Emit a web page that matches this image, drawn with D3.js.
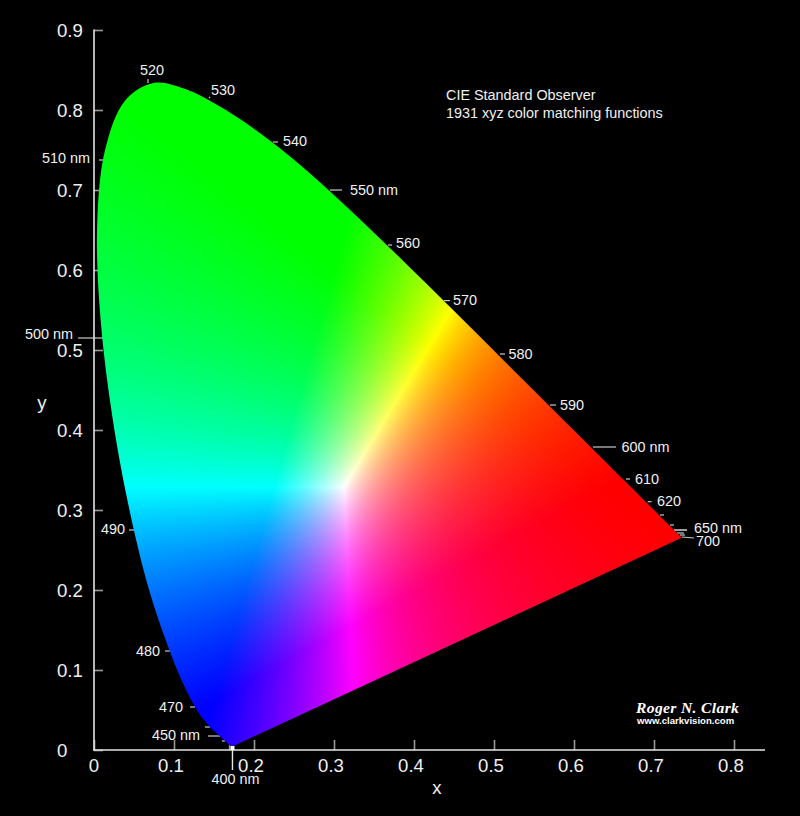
<!DOCTYPE html>
<html><head><meta charset="utf-8">
<script src="https://d3js.org/d3.v7.min.js"></script>
<style>html,body{margin:0;padding:0;background:#000;}svg{display:block;}text{font-family:"Liberation Sans",Arial,sans-serif;}</style>
</head><body>
<script>
// ---- spectral locus (wavelength nm, chromaticity x, y) ----
const wavelengths=[380,400,420,430,440,445,450,455,460,465,470,475,480,485,490,495,500,505,510,515,520,525,530,535,540,545,550,555,560,565,570,575,580,585,590,595,600,605,610,615,620,625,630,635,640,650,660,680,700];
const locusX=[.1741,.1733,.1714,.1689,.1644,.1611,.1566,.1510,.1440,.1355,.1241,.1096,.0913,.0687,.0454,.0235,.0082,.0039,.0139,.0389,.0743,.1142,.1547,.1929,.2296,.2658,.3016,.3373,.3731,.4087,.4441,.4788,.5125,.5448,.5752,.6029,.6270,.6482,.6658,.6801,.6915,.7006,.7079,.7140,.7190,.7260,.7300,.7334,.7347];
const locusY=[.0050,.0048,.0051,.0069,.0109,.0138,.0177,.0227,.0297,.0399,.0578,.0868,.1327,.2007,.2950,.4127,.5384,.6548,.7502,.8120,.8338,.8262,.8059,.7816,.7543,.7243,.6923,.6589,.6245,.5896,.5547,.5202,.4866,.4544,.4242,.3965,.3725,.3514,.3340,.3197,.3083,.2993,.2920,.2859,.2809,.2740,.2700,.2666,.2653];
// ---- axis ticks ----
const xTickValues=[0,.1,.2,.3,.4,.5,.6,.7,.8];
const yTickValues=[0,.1,.2,.3,.4,.5,.6,.7,.8,.9];
const axisTickLabels=["0","0.1","0.2","0.3","0.4","0.5","0.6","0.7","0.8","0.9"];
// ---- wavelength annotations (chart units) ----
const markLabels=["400 nm","","450 nm","","470","480","490","500 nm","510 nm","520","530","540","550 nm","560","570","580","590","600 nm","610","620","","","650 nm","","","700"];
const markInnerX=[.1731,.16375,.1575,.145,.12625,.095,.05,.01125,.01125,.0675,.145,.22375,.295,.3675,.4375,.5075,.57,.62375,.665,.692,.7075,.72,.725,.72875,.7325,.735];
const markInnerY=[.0025,.01125,.0175,.02875,.05375,.12375,.275,.515,.7375,.83375,.815,.76,.70,.63125,.56175,.495,.43125,.37875,.33875,.3104,.29375,.28125,.275,.27125,.26875,.26625];
const markOuterX=[.1731,.16,.1425,.13875,.12,.08875,.04375,-.02,.00625,.0675,.14375,.23,.31,.3725,.445,.51375,.5775,.6525,.67,.697,.7125,.725,.74125,.7375,.73875,.75];
const markOuterY=[-.025,.01125,.0175,.02875,.05375,.12375,.275,.515,.7375,.83875,.8162,.76,.70,.63125,.56175,.495,.43125,.37875,.33875,.3104,.29375,.28125,.275,.27125,.26875,.265];
// ---- layout (pixels) ----
const W=800,H=816;
const x=d3.scaleLinear().domain([0,.8]).range([94,734]);
const y=d3.scaleLinear().domain([0,.9]).range([750,30]);
const labelAnchor=["middle","","end","","end","end","end","end","end","middle","start","start","start","start","start","start","start","start","start","start","","","start","","","start"];
const labelDx=[3,0,-8,0,-7,-5,-4,-5,-9,4,2,5,8,4,3,3.5,4,5.6,5,5.4,0,0,7,0,0,2];
const labelDy=[9,0,-1,0,0,0,-1,-4,-2,-9,-7,-1,0,-2,-.6,0,0,0,0,-1,0,0,-2,0,0,3];

const svg=d3.select("body").append("svg").attr("width",W).attr("height",H).style("background","#000");

// locus outline
const pts=wavelengths.map((w,i)=>[x(locusX[i]),y(locusY[i])]);
const upper=d3.line().curve(d3.curveCatmullRom.alpha(.5))(pts)+"Z";
svg.append("defs").append("clipPath").attr("id","locus").append("path").attr("d",upper);

// chromaticity colours, per pixel, via scale inversion (xy -> linear sRGB -> normalised)
const x0=90,y0=20,cw=660,ch=740;
const cv=document.createElement("canvas");cv.width=cw;cv.height=ch;
const ctx=cv.getContext("2d");const img=ctx.createImageData(cw,ch);
for(let j=0;j<ch;j++)for(let i=0;i<cw;i++){
  const cx=x.invert(x0+i+.5),cy=y.invert(y0+j+.5),cz=1-cx-cy;
  let r= 3.2406*cx-1.5372*cy-.4986*cz, g=-.9689*cx+1.8758*cy+.0415*cz, b=.0557*cx-.2040*cy+1.0570*cz;
  r=Math.max(r,0);g=Math.max(g,0);b=Math.max(b,0);
  const m=Math.max(r,g,b)||1;
  const k=(j*cw+i)*4;
  img.data[k]=255*r/m;img.data[k+1]=255*g/m;img.data[k+2]=255*b/m;img.data[k+3]=255;
}
ctx.putImageData(img,0,0);

// wavelength ticks sit behind the colour area
const marks=svg.append("g");
markLabels.forEach((t,i)=>{
  marks.append("line").attr("x1",x(markInnerX[i])).attr("y1",y(markInnerY[i])).attr("x2",x(markOuterX[i])).attr("y2",y(markOuterY[i]))
    .attr("stroke",i===0?"#e8e8e8":"#c8c8c8").attr("stroke-width",i===22?1.6:1.2);
});

// axes
const xAxis=d3.axisBottom(x).tickValues(xTickValues).tickSizeInner(-10).tickSizeOuter(0).tickFormat(()=>"");
const yAxis=d3.axisLeft(y).tickValues(yTickValues).tickSizeInner(-9).tickSizeOuter(0).tickFormat(()=>"");
const gx=svg.append("g").attr("transform","translate(0,750)").call(xAxis);
const gy=svg.append("g").attr("transform","translate(94,0)").call(yAxis);
gx.selectAll(".tick line").attr("stroke","#999").attr("stroke-width",1.6);
gy.selectAll(".tick line").attr("stroke","#999").attr("stroke-width",1.6);
gx.select(".domain").remove();gy.select(".domain").remove();
svg.append("line").attr("x1",x(.1695)).attr("x2",x(.1695)).attr("y1",y(0)).attr("y2",y(.006)).attr("stroke","#999").attr("stroke-width",1.6);

svg.append("image").attr("x",x0).attr("y",y0).attr("width",cw).attr("height",ch)
  .attr("href",cv.toDataURL("image/png")).attr("clip-path","url(#locus)");

svg.append("line").attr("x1",93).attr("x2",765).attr("y1",750).attr("y2",750).attr("stroke","#e4e4e4").attr("stroke-width",1.6);
svg.append("line").attr("x1",94).attr("x2",94).attr("y1",29.5).attr("y2",750).attr("stroke","#e4e4e4").attr("stroke-width",1.6);

svg.append("line").attr("x1",x(.1731)).attr("y1",y(-.025)).attr("x2",x(.1731)).attr("y2",y(0)).attr("stroke","#e8e8e8").attr("stroke-width",1.2);
svg.append("rect").attr("x",x(.1731)-2).attr("y",y(.005)).attr("width",4).attr("height",4).attr("fill","#fff");

const col="#f0f0f0";
xTickValues.forEach((v,i)=>svg.append("text").attr("x",x(v)-(i?3:0)).attr("y",772).attr("text-anchor","middle").attr("font-size",18.6).attr("fill",col).text(axisTickLabels[i]));
yTickValues.forEach((v,i)=>svg.append("text").attr("x",57).attr("y",y(v)+7).attr("font-size",18.6).attr("fill",col).text(axisTickLabels[i]));
svg.append("text").attr("x",437).attr("y",794).attr("text-anchor","middle").attr("font-size",18.6).attr("fill",col).text("x");
svg.append("text").attr("x",42).attr("y",409).attr("text-anchor","middle").attr("font-size",18.6).attr("fill",col).text("y");

markLabels.forEach((t,i)=>{ if(!t) return;
  svg.append("text").attr("x",x(markOuterX[i])+labelDx[i]).attr("y",y(markOuterY[i])+labelDy[i]+5.3)
    .attr("text-anchor",labelAnchor[i]).attr("font-size",14.4).attr("fill",col).text(t);
});

svg.append("text").attr("x",446).attr("y",100).attr("font-size",14.4).attr("fill",col).text("CIE Standard Observer");
svg.append("text").attr("x",446).attr("y",118).attr("font-size",14.4).attr("fill",col).text("1931 xyz color matching functions");
svg.append("text").attr("x",636).attr("y",712.5).attr("font-size",15.6).attr("letter-spacing",.35).attr("font-weight","bold").attr("font-style","italic").attr("fill","#fff").style("font-family","'Liberation Serif',serif").text("Roger N. Clark");
svg.append("text").attr("x",637).attr("y",724).attr("font-size",9.6).attr("font-weight","bold").attr("fill","#fff").text("www.clarkvision.com");
</script>
</body></html>
